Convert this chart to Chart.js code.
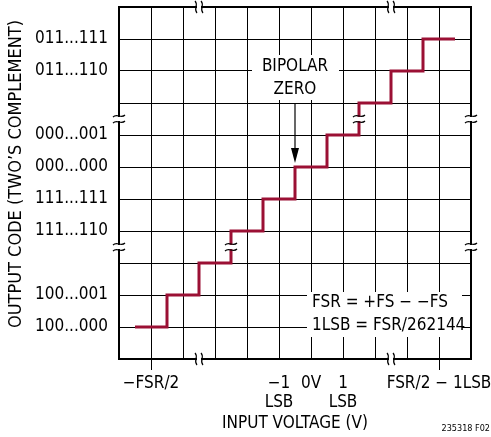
<!DOCTYPE html>
<html>
<head>
<meta charset="utf-8">
<script src="https://cdn.jsdelivr.net/npm/chart.js@4"></script>
<style>
  html, body { margin: 0; padding: 0; background: #fff; }
  #wrap { width: 491px; height: 437px; }
</style>
</head>
<body>
<div id="wrap"><canvas id="c" width="491" height="437"></canvas></div>
<script>
// staircase corners (input in grid units, output code level)
var stepX = [0.5, 1.5, 2.5, 3.5, 4.5, 5.5, 6.5, 7.5, 8.5, 9.5, 10.5];
var stepY = [1, 2, 3, 4, 5, 6, 7, 8, 9, 10, 10];

var yTickValues = [1, 2, 4, 5, 6, 7, 9, 10];
var yTickLabels = ['100...000', '100...001', '111...110', '111...111', '000...000', '000...001', '011...110', '011...111'];
var xTickValues = [1, 5, 6, 7, 10];
var xTickLabels = ['\u2212FSR/2', ['\u22121', 'LSB'], '0V', ['1', 'LSB'], 'FSR/2 \u2212 1LSB'];

var xBreaks = [2.5, 8.5];
var yBreaks = [3.5, 7.5];
var stepBreaks = [[3.5, 3.5], [7.5, 7.5]];

var FONT = '"Liberation Sans Narrow", "DejaVu Sans Condensed", "Arial Narrow", sans-serif';
var FS = 17;
var RED = '#9b1034';

var data = stepX.map(function (x, i) { return { x: x, y: stepY[i] }; });

function squiggle(ctx, cx, cy, len, vertical) {
    ctx.beginPath();
    if (vertical) {
        ctx.moveTo(cx - 1, cy - len / 2);
        ctx.bezierCurveTo(cx + 3, cy - len / 6, cx - 3, cy + len / 6, cx + 1, cy + len / 2);
    } else {
        ctx.moveTo(cx - len / 2, cy + 1);
        ctx.bezierCurveTo(cx - len / 6, cy - 3, cx + len / 6, cy + 3, cx + len / 2, cy - 1);
    }
    ctx.stroke();
}

// break mark across a line: vertical=true means the marks are drawn on a horizontal line
function breakMark(ctx, cx, cy, vertical) {
    ctx.save();
    ctx.fillStyle = '#fff';
    if (vertical) ctx.fillRect(cx - 2, cy - 3, 4, 6);
    else ctx.fillRect(cx - 3, cy - 2, 6, 4);
    ctx.strokeStyle = '#000';
    ctx.lineWidth = 1.2;
    if (vertical) {
        squiggle(ctx, cx - 3, cy, 12, true);
        squiggle(ctx, cx + 3, cy, 12, true);
    } else {
        squiggle(ctx, cx, cy - 3, 12, false);
        squiggle(ctx, cx, cy + 3, 12, false);
    }
    ctx.restore();
}

var decorPlugin = {
    id: 'decor',
    beforeDatasetsDraw: function (chart) {
        var ctx = chart.ctx, a = chart.chartArea;
        var xs = chart.scales.x, ys = chart.scales.y;
        ctx.save();
        // white boxes behind the notes
        ctx.fillStyle = '#fff';
        ctx.fillRect(252, 55, 87, 45);
        ctx.fillRect(307, 292, 155, 45);
        // frame
        ctx.strokeStyle = '#000';
        ctx.lineWidth = 2;
        ctx.strokeRect(a.left, a.top, a.right - a.left, a.bottom - a.top);
        ctx.restore();
        xBreaks.forEach(function (v) {
            var px = xs.getPixelForValue(v);
            breakMark(ctx, px, a.top, true);
            breakMark(ctx, px, a.bottom, true);
        });
        yBreaks.forEach(function (v) {
            var py = ys.getPixelForValue(v);
            breakMark(ctx, a.left, py, false);
            breakMark(ctx, a.right, py, false);
        });
    },
    afterDatasetsDraw: function (chart) {
        var ctx = chart.ctx;
        var xs = chart.scales.x, ys = chart.scales.y;
        stepBreaks.forEach(function (p) {
            breakMark(ctx, xs.getPixelForValue(p[0]), ys.getPixelForValue(p[1]), false);
        });
        ctx.save();
        ctx.fillStyle = '#000';
        ctx.font = FS + 'px ' + FONT;
        ctx.textBaseline = 'middle';
        // bipolar zero note
        var ax = xs.getPixelForValue(5.5);
        ctx.textAlign = 'center';
        ctx.fillText('BIPOLAR', ax, 67);
        ctx.fillText('ZERO', ax, 90);
        ctx.strokeStyle = '#000';
        ctx.lineWidth = 1.2;
        ctx.beginPath();
        ctx.moveTo(ax, 103);
        ctx.lineTo(ax, 150);
        ctx.stroke();
        ctx.beginPath();
        ctx.moveTo(ax - 4, 148);
        ctx.lineTo(ax + 4, 148);
        ctx.lineTo(ax, ys.getPixelForValue(6) - 4);
        ctx.closePath();
        ctx.fill();
        // FSR note
        ctx.textAlign = 'left';
        ctx.fillText('FSR = +FS \u2212 \u2212FS', 312, 303);
        ctx.fillText('1LSB = FSR/262144', 312, 326);
        // y title
        ctx.save();
        ctx.font = '18px ' + FONT;
        ctx.translate(16, 174);
        ctx.rotate(-Math.PI / 2);
        ctx.textAlign = 'center';
        ctx.fillText('OUTPUT CODE (TWO\u2019S COMPLEMENT)', 0, 0);
        ctx.restore();
        // figure number
        ctx.font = '9px ' + FONT;
        ctx.textAlign = 'right';
        ctx.fillText('235318 F02', 490, 429);
        ctx.restore();
    }
};

new Chart(document.getElementById('c'), {
    type: 'line',
    data: {
        datasets: [{
            data: data,
            stepped: true,
            borderColor: RED,
            borderWidth: 3,
            pointRadius: 0,
            fill: false
        }]
    },
    options: {
        responsive: false,
        animation: false,
        layout: { padding: { top: 7, right: 20, left: 0, bottom: 0 } },
        plugins: { legend: { display: false }, tooltip: { enabled: false } },
        scales: {
            x: {
                type: 'linear',
                min: 0,
                max: 11,
                afterBuildTicks: function (s) {
                    s.ticks = [0, 1, 2, 3, 4, 5, 6, 7, 8, 9, 10, 11].map(function (v) { return { value: v }; });
                },
                afterFit: function (s) {
                    s.height = 78;
                    s.paddingLeft = 0;
                    s.paddingRight = 0;
                },
                ticks: {
                    autoSkip: false,
                    maxRotation: 0,
                    color: '#000',
                    padding: 4,
                    font: { family: FONT, size: FS, lineHeight: 1.12 },
                    callback: function (v) {
                        var i = xTickValues.indexOf(v);
                        return i < 0 ? '' : xTickLabels[i];
                    }
                },
                grid: {
                    color: '#000',
                    lineWidth: 1,
                    tickLength: 11,
                    tickColor: function (c) { return (c.tick && (c.tick.value === 1 || c.tick.value === 10)) ? '#000' : 'rgba(0,0,0,0)'; }
                },
                border: { display: false },
                title: {
                    display: true,
                    text: 'INPUT VOLTAGE (V)',
                    color: '#000',
                    font: { family: FONT, size: FS, lineHeight: 1.2 },
                    padding: { top: 0, bottom: 3 }
                }
            },
            y: {
                type: 'linear',
                min: 0,
                max: 11,
                afterBuildTicks: function (s) {
                    s.ticks = [0, 1, 2, 3, 4, 5, 6, 7, 8, 9, 10, 11].map(function (v) { return { value: v }; });
                },
                afterFit: function (s) {
                    s.width = 119;
                    s.paddingTop = 0;
                    s.paddingBottom = 0;
                },
                ticks: {
                    autoSkip: false,
                    color: '#000',
                    padding: 11,
                    font: { family: FONT, size: FS },
                    callback: function (v) {
                        var i = yTickValues.indexOf(v);
                        return i < 0 ? '' : yTickLabels[i];
                    }
                },
                grid: { color: '#000', lineWidth: 1, drawTicks: false },
                border: { display: false }
            }
        }
    },
    plugins: [decorPlugin]
});
</script>
</body>
</html>
